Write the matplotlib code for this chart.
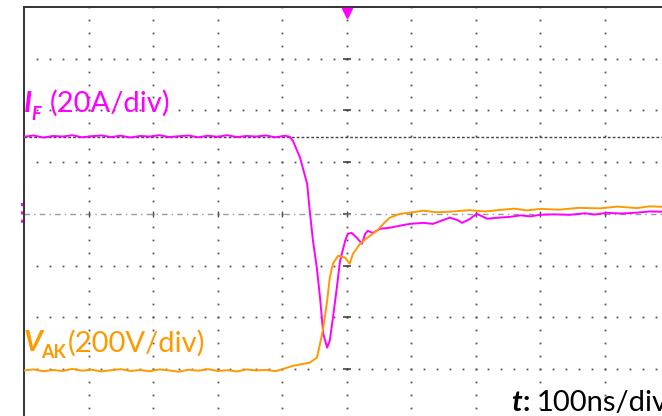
import numpy as np
import matplotlib.pyplot as plt

# scope settings
t_div = 100.0      # ns/div
i_div = 20.0       # A/div
v_div = 200.0      # V/div
v_offset = -3.0    # divisions, orange channel ground

# forward current trace (magenta), time in ns from left screen edge
t_i = [0, 15, 30, 45, 60, 75, 90, 105, 120, 135, 150, 165, 180, 195, 210, 225,
       240, 255, 270, 285, 300, 315, 330, 345, 360, 375, 390, 405,
       412, 417, 428, 439, 443, 448, 454,
       459, 464, 470, 474, 479, 485, 490, 498, 502, 508, 516, 524, 529, 533,
       541, 552, 567, 583, 598, 619, 634, 648, 660, 672, 679, 690, 702, 718,
       735, 753, 770, 785, 800, 820, 846, 870, 885, 904, 925, 947, 970, 990]
i_f = [29.8, 30.3, 29.5, 30.1, 29.9, 30.4, 29.6, 30.0, 30.3, 29.7, 30.2, 29.5,
       30.1, 29.9, 30.4, 29.7, 30.0, 30.3, 29.6, 30.2, 29.8, 30.4, 29.7, 30.1,
       29.9, 30.3, 29.6, 30.2,
       29.8, 28.2, 21.7, 11.6,
       1.2, -10.4, -20.9, -32.5, -46.4, -51.8, -49.1, -40.2, -28.6, -18.2,
       -10.4, -7.7, -7.4, -9.3, -11.6, -7.7, -6.6, -7.4, -5.8, -5.4, -4.6,
       -3.9, -3.5, -3.9, -2.6, -1.5, -2.4, -3.5, -2.2, 0.0, -1.9, -1.5,
       -1.2, -0.6, -1.0, -0.4, -0.2, -0.4, 0.2, -0.3, 0.4, 0.1, 0.4, 0.9, 0.8]

# anode-cathode voltage trace (orange)
t_v = [0, 15, 30, 45, 60, 75, 90, 105, 120, 135, 150, 165, 180, 195, 210, 225,
       240, 255, 270, 285, 300, 315, 330, 345, 360, 375, 390, 402,
       417, 443, 454, 459, 464, 470, 474,
       479, 487, 498, 505, 510, 521, 532, 547, 557, 567, 583, 598, 619, 640,
       660, 690, 715, 738, 760, 780, 800, 830, 860, 893, 920, 950, 970, 990]
v_ak = [-6, -2, -9, -4, -8, 0, -7, -3, -10, -5, -1, -8, -4, -9, -2, -6, -11,
        -3, -7, -1, -8, -5, -10, -2, -6, -4, -9, 0,
        12, 24, 43, 97, 159, 263, 352, 407, 438,
        430, 407, 445, 484, 507, 534, 561, 585, 600, 604, 612, 606, 608, 614,
        609, 615, 620, 613, 619, 616, 623, 621, 628, 622, 629, 627]

cursor_i = 29.8   # A, horizontal cursor

W, H = 662, 416
fig = plt.figure(figsize=(W / 100, H / 100), dpi=100)
# screen is 10 x 8 div, cut off on the right and bottom
ax = fig.add_axes([24 / W, (H - 7 - 413.6) / H, 645 / W, 413.6 / H])
ax.set_xlim(0, 10)
ax.set_ylim(-4, 4)
ax.set_xticks([])
ax.set_yticks([])
for s in ['left', 'top']:
    ax.spines[s].set_color('#333333')
    ax.spines[s].set_linewidth(1.4)
for s in ['right', 'bottom']:
    ax.spines[s].set_visible(False)

dot = dict(ls='none', marker='s', ms=1.3, color='#555555', mew=0)
for xv in range(1, 10):
    if xv == 5:
        continue
    ys = np.arange(-4, 4.01, 0.25)
    ax.plot(np.full_like(ys, xv), ys, **dot)
for yv in range(-3, 4):
    if yv == 0:
        continue
    xs = np.arange(0.2, 10.01, 0.2)
    ax.plot(xs, np.full_like(xs, yv), **dot)

# centre lines
ys = np.arange(-4, 4.01, 0.25)
ax.plot(np.full_like(ys, 5), ys, **dot)
ax.plot(np.full(7, 5.0), np.arange(-3, 4), ls='none', marker='_', ms=6,
        color='#444444', mew=1.2)
ax.axhline(0, color='#999999', lw=1, ls=(0, (4, 3, 1, 3)))
ax.plot(np.arange(1, 10), np.zeros(9), ls='none', marker='|', ms=5,
        color='#555555', mew=1)

# cursor
ax.axhline(cursor_i / i_div, color='#444444', lw=1, ls=(0, (2, 1.5)), zorder=2)

# traces
ax.plot(np.array(t_i) / t_div, np.array(i_f) / i_div, color='#ff00ff', lw=1.4, zorder=3)
ax.plot(np.array(t_v) / t_div, np.array(v_ak) / v_div + v_offset,
        color='#ff9900', lw=1.4, zorder=4)

# markers: trigger position and channel ground
ax.plot([5], [3.88], marker='v', ms=7, color='#ff00ff', clip_on=False, zorder=5)
ax.plot([-0.03, -0.03], [0.2, -0.25], color='#ff00ff', lw=1.5,
        ls=(0, (1.5, 2.5)), clip_on=False, zorder=5)

fam = ['Lato', 'DejaVu Sans']
fs = 21
ax.text(0.0, 1.97, 'I', color='#ff00ff', fontsize=fs, fontweight='bold',
        style='italic', family=fam, va='baseline', ha='left')
ax.text(0.11, 1.82, 'F', color='#ff00ff', fontsize=13, fontweight='bold',
        style='italic', family=fam, va='baseline', ha='left')
ax.text(0.40, 1.97, '(20A/div)', color='#ff00ff', fontsize=fs, family=fam,
        va='baseline', ha='left')

ax.text(0.0, -2.66, 'V', color='#ff9900', fontsize=fs, fontweight='bold',
        style='italic', family=fam, va='baseline', ha='left')
ax.text(0.27, -2.79, 'AK', color='#ff9900', fontsize=13, fontweight='bold',
        family=fam, va='baseline', ha='left')
ax.text(0.68, -2.66, '(200V/div)', color='#ff9900', fontsize=fs, family=fam,
        va='baseline', ha='left')

ax.text(7.55, -3.81, 't', color='black', fontsize=fs, fontweight='bold',
        style='italic', family=fam, va='baseline', ha='left')
ax.text(7.73, -3.81, ':', color='black', fontsize=fs, fontweight='bold',
        family=fam, va='baseline', ha='left')
ax.text(7.94, -3.81, '100ns/div', color='black', fontsize=fs, family=fam,
        va='baseline', ha='left')

fig.savefig('out.png', dpi=100)
